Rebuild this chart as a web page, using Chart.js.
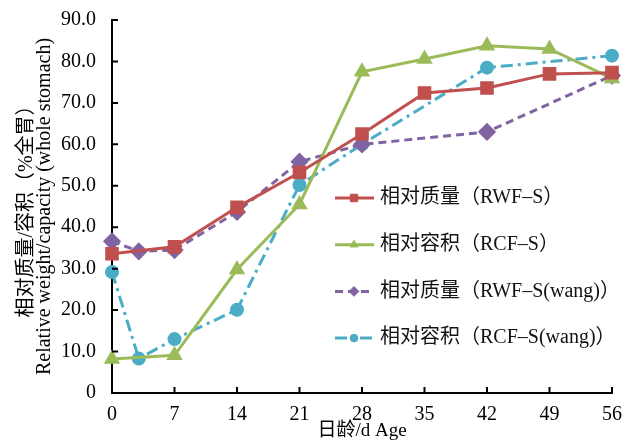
<!DOCTYPE html>
<html>
<head>
<meta charset="utf-8">
<script src="https://cdn.jsdelivr.net/npm/chart.js@4"></script>
<style>
    html, body { margin: 0; background: #fff; }
    #wrap { width: 630px; height: 444px; }
</style>
</head>
<body>
<div id="wrap"><canvas id="chart" width="630" height="444"></canvas></div>
<script>
// x ticks (days of age)
const xTicks = [0, 7, 14, 21, 28, 35, 42, 49, 56];

// this study
const ageMain = [0, 7, 14, 21, 28, 35, 42, 49, 56];
const rwfS = [33.6, 35.3, 44.8, 53.2, 62.5, 72.4, 73.6, 77.0, 77.3];
const rcfS = [8.2, 9.1, 29.8, 45.5, 77.5, 80.6, 83.8, 83.0, 75.9];

// wang
const ageWang = [0, 3, 7, 14, 21, 28, 42, 56];
const rwfWang = [36.6, 34.2, 34.5, 43.7, 55.8, 60.0, 63.0, 76.6];
const rcfWang = [29.2, 8.3, 13.0, 20.1, 50.2, 60.0, 78.5, 81.4];

const seriesLabels = ['相对质量（RWF–S）', '相对容积（RCF–S）', '相对质量（RWF–S(wang)）', '相对容积（RCF–S(wang)）'];

const FONT = "'Liberation Serif', 'Noto Sans CJK SC', serif";

function pts(xs, ys) {
    return xs.map((x, i) => ({ x: x, y: ys[i] }));
}

// tick marks point into the plot area
const innerTicks = {
    id: 'innerTicks',
    afterDraw(chart) {
        const { ctx, chartArea: a, scales: { x, y } } = chart;
        ctx.save();
        ctx.strokeStyle = '#000';
        ctx.lineWidth = 2;
        ctx.beginPath();
        xTicks.forEach(v => {
            const px = x.getPixelForValue(v);
            ctx.moveTo(px, a.bottom);
            ctx.lineTo(px, a.bottom - 6);
        });
        y.ticks.forEach(t => {
            const py = y.getPixelForValue(t.value);
            ctx.moveTo(a.left, py);
            ctx.lineTo(a.left + 6, py);
        });
        ctx.stroke();
        ctx.restore();
    }
};

// legend drawn inside the plot, right side
const insideLegend = {
    id: 'insideLegend',
    afterDraw(chart) {
        const ctx = chart.ctx;
        ctx.save();
        chart.data.datasets.forEach((ds, i) => {
            const y = 198 + i * 46.7;
            ctx.strokeStyle = ds.borderColor;
            ctx.lineWidth = ds.borderWidth;
            ctx.setLineDash(ds.borderDash || []);
            ctx.beginPath();
            ctx.moveTo(335, y);
            ctx.lineTo(374, y);
            ctx.stroke();
            ctx.setLineDash([]);
            ctx.fillStyle = ds.pointBackgroundColor;
            ctx.strokeStyle = ds.borderColor;
            ctx.lineWidth = 1;
            Chart.helpers.drawPoint(ctx, { pointStyle: ds.pointStyle, radius: ds.pointRadius * 0.7, rotation: 0, borderWidth: 1 }, 354, y);
            ctx.fillStyle = '#111';
            ctx.font = '20px ' + FONT;
            ctx.textBaseline = 'middle';
            ctx.fillText(ds.label, 380, y);
        });
        ctx.restore();
    }
};

const ctx = document.getElementById('chart').getContext('2d');

new Chart(ctx, {
    type: 'line',
    data: {
        datasets: [{
            label: seriesLabels[0],
            data: pts(ageMain, rwfS),
            borderColor: '#c0504d',
            pointBackgroundColor: '#c0504d',
            borderWidth: 3,
            pointStyle: 'rect',
            pointRadius: 7.5
        }, {
            label: seriesLabels[1],
            data: pts(ageMain, rcfS),
            borderColor: '#9bbb59',
            pointBackgroundColor: '#9bbb59',
            borderWidth: 3,
            pointStyle: 'triangle',
            pointRadius: 6.5
        }, {
            label: seriesLabels[2],
            data: pts(ageWang, rwfWang),
            borderColor: '#8064a2',
            pointBackgroundColor: '#8064a2',
            borderWidth: 3,
            borderDash: [8, 5],
            pointStyle: 'rectRot',
            pointRadius: 7
        }, {
            label: seriesLabels[3],
            data: pts(ageWang, rcfWang),
            borderColor: '#4bacc6',
            pointBackgroundColor: '#4bacc6',
            borderWidth: 3,
            borderDash: [12, 5, 3, 5],
            pointStyle: 'circle',
            pointRadius: 5.5
        }]
    },
    options: {
        responsive: false,
        animation: false,
        devicePixelRatio: 1,
        clip: false,
        layout: { padding: { top: 10, right: 18, left: 4, bottom: 2 } },
        elements: { line: { tension: 0 }, point: { borderWidth: 1 } },
        plugins: {
            legend: { display: false },
            tooltip: { enabled: false }
        },
        scales: {
            x: {
                type: 'linear',
                min: 0,
                max: 56,
                afterBuildTicks: scale => { scale.ticks = xTicks.map(v => ({ value: v })); },
                afterFit: scale => { scale.height = 49; },
                grid: { display: false },
                border: { display: true, color: '#000', width: 2 },
                ticks: {
                    color: '#000',
                    padding: 2,
                    maxRotation: 0,
                    font: { family: FONT, size: 20 }
                },
                title: {
                    display: true,
                    text: '日龄/d Age',
                    color: '#000',
                    padding: { top: 0, bottom: 0 },
                    font: { family: FONT, size: 19 }
                }
            },
            y: {
                min: 0,
                max: 90,
                afterFit: scale => { scale.width = 108; },
                grid: { display: false },
                border: { display: true, color: '#000', width: 2 },
                ticks: {
                    stepSize: 10,
                    color: '#000',
                    padding: 8,
                    font: { family: FONT, size: 20 },
                    callback: v => v === 0 ? '0' : v.toFixed(1)
                },
                title: {
                    display: true,
                    text: ['相对质量/容积（%全胃）', 'Relative weight/capacity (whole stomach)'],
                    color: '#000',
                    padding: { top: 14, bottom: 0 },
                    font: { family: FONT, size: 20, lineHeight: 0.9 }
                }
            }
        }
    },
    plugins: [innerTicks, insideLegend]
});
</script>
</body>
</html>
